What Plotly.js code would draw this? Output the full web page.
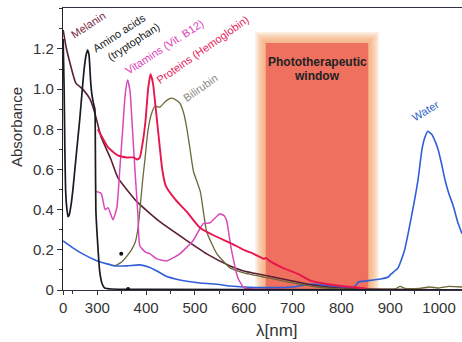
<!DOCTYPE html>
<html><head><meta charset="utf-8">
<script src="https://cdn.plot.ly/plotly-3.0.1.min.js"></script>
<style>html,body{margin:0;padding:0;background:#fff}#chart{width:462px;height:342px}</style>
</head><body><div id="chart"></div>
<script>
// ---- data ----
const melaninX = [230,236,244,256,270,285,295,308,328,342,381,428,484,524,572,600,650,700,740,780,800,900,1047];
const melaninY = [1.295,1.21,1.13,1.03,1.0,0.95,0.88,0.76,0.65,0.56,0.44,0.34,0.245,0.18,0.12,0.095,0.07,0.045,0.025,0.012,0.008,0.003,0.0];

const aminoX = [230,232,233.5,235,237,240,242,246,250,254,260,264,270,273,277,280,283,286,288,292,295,296,297,300,305,310,315,330,400,1047];
const aminoY = [1.25,1.0,0.7,0.5,0.42,0.365,0.37,0.42,0.5,0.6,0.75,0.85,1.02,1.1,1.17,1.195,1.17,1.05,0.99,0.93,0.9,0.7,0.4,0.26,0.09,0.03,0.01,0.005,0.003,0.0];

const vitX = [298,308,316,322,332,340,346,352,357,362,367,372,377,383,387,398,408,422,442,455,469,496,517,531,551,560,565,574,588,600,620,700];
const vitY = [0.49,0.48,0.40,0.41,0.35,0.41,0.6,0.8,0.97,1.045,0.99,0.8,0.6,0.38,0.22,0.19,0.18,0.155,0.145,0.16,0.18,0.245,0.33,0.335,0.38,0.37,0.345,0.21,0.06,0.012,0.005,0.003];

const protX = [301,322,342,360,374,382,387,394,399,404,409,414,419,425,433,440,460,483,510,540,572,600,620,642,645,650,680,711,738,770,800,850];
const protY = [0.80,0.71,0.67,0.66,0.66,0.65,0.66,0.75,0.85,1.0,1.075,1.03,0.92,0.78,0.60,0.52,0.45,0.39,0.31,0.27,0.235,0.2,0.18,0.155,0.16,0.15,0.11,0.08,0.045,0.03,0.02,0.008];

const biliX = [336,350,361,370,378,384,388,393,398,403,410,418,428,440,452,462,469,477,483,490,497,511,524,545,572,600,650,700,750,800,880,910,920,930,960,980,1000,1020,1047];
const biliY = [0.12,0.14,0.17,0.2,0.24,0.32,0.42,0.55,0.66,0.78,0.87,0.915,0.91,0.94,0.955,0.945,0.93,0.88,0.81,0.7,0.59,0.49,0.29,0.18,0.11,0.085,0.06,0.035,0.015,0.005,0.003,0.005,0.018,0.008,0.008,0.015,0.01,0.018,0.015];

const waterX = [230,250,270,300,320,336,360,387,405,422,440,460,480,510,540,572,600,650,700,740,780,825,835,850,880,896,902,916,929,943,957,965,971,977,985,992,998,1005,1012,1020,1029,1038,1047];
const waterY = [0.245,0.21,0.18,0.145,0.13,0.12,0.12,0.125,0.115,0.095,0.07,0.055,0.045,0.035,0.03,0.02,0.015,0.012,0.015,0.03,0.02,0.012,0.04,0.045,0.055,0.065,0.08,0.11,0.195,0.36,0.55,0.70,0.76,0.79,0.775,0.74,0.70,0.63,0.55,0.48,0.42,0.34,0.28];

const dotX = [349,363];
const dotY = [0.18,0.005];

const windowRange = [645, 855];
const windowTop = 1.23;

const xTickVals = [230,300,400,500,600,700,800,900,1000];
const xTickText = ['0','300','400','500','600','700','800','900','1000'];
const yTickVals = [0,0.2,0.4,0.6,0.8,1.0,1.2];
const yTickText = ['0','0.2','0.4','0.6','0.8','1.0','1.2'];

// ---- layout helpers (pixel -> paper) ----
const L=63, R=462, T=8, B=290;
function px(x){return (x-L)/(R-L);}
function py(y){return (B-y)/(B-T);}

function line(x,y,color,w){return {x:x,y:y,type:'scatter',mode:'lines',line:{color:color,width:w,shape:'spline',smoothing:0.45},hoverinfo:'skip',showlegend:false};}

const traces = [
  line(waterX,waterY,'#2f5fd8',1.6),
  line(melaninX,melaninY,'#5a1f35',1.6),
  line(biliX,biliY,'#6b6838',1.3),
  line(vitX,vitY,'#d948b8',1.5),
  line(protX,protY,'#e8164e',1.9),
  line(aminoX,aminoY,'#1a1a22',1.7),
  {x:dotX,y:dotY,type:'scatter',mode:'markers',marker:{color:'#111',size:4},hoverinfo:'skip',showlegend:false}
];

// phototherapeutic window: glow layers + core
const shapes=[];
const glowSteps=6;
for(let i=glowSteps;i>=1;i--){
  const dx=i*3.6, dy=i*0.009;
  shapes.push({type:'rect',xref:'x',yref:'y',layer:'below',x0:windowRange[0]-dx,x1:windowRange[1]+dx,y0:0,y1:windowTop+dy,
    line:{width:0},fillcolor:'rgba(246,160,100,0.2)'});
}
shapes.push({type:'rect',xref:'x',yref:'y',layer:'below',x0:windowRange[0],x1:windowRange[1],y0:0,y1:windowTop,
  line:{width:0},fillcolor:'rgba(238,104,90,0.9)'});

function lab(text,x,y,color,size,ang,bold){
  return {text:bold?'<b>'+text+'</b>':text,xref:'paper',yref:'paper',x:px(x),y:py(y),showarrow:false,
    textangle:ang,font:{family:'Liberation Sans, Arial, sans-serif',size:size,color:color},xanchor:'center',yanchor:'middle'};
}
const annotations=[
  lab('Melanin',88,25,'#7a2a48',11,-33),
  lab('Amino acids',119,33,'#1a1a1a',11,-33),
  lab('(tryptophan)',133,42,'#1a1a1a',11,-33),
  lab('Vitamins (Vit. B12)',164,47,'#e040b8',11,-33),
  lab('Proteins (Hemoglobin)',202,50,'#e8205a',11,-35),
  lab('Bilirubin',200,88,'#8a8a80',11,-35),
  lab('Water',425,111,'#3060c8',11,-31),
  lab('Phototherapeutic',317,62,'#222',12,0,true),
  lab('window',317,76,'#222',12,0,true),
  {text:'λ[nm]',xref:'paper',yref:'paper',x:px(277),y:py(330),showarrow:false,font:{family:'Liberation Sans, Arial, sans-serif',size:17,color:'#333'},xanchor:'center',yanchor:'middle'},
  {text:'Absorbance',xref:'paper',yref:'paper',x:px(16),y:py(127),showarrow:false,textangle:-90,font:{family:'Liberation Sans, Arial, sans-serif',size:15,color:'#333'},xanchor:'center',yanchor:'middle'}
];

const layout={
  width:462,height:342,
  margin:{l:L,r:462-R,t:T,b:342-B,pad:0},
  paper_bgcolor:'#fff',plot_bgcolor:'#fff',
  font:{family:'Liberation Sans, Arial, sans-serif',size:15,color:'#333'},
  xaxis:{range:[229.7,1047],tickvals:xTickVals,ticktext:xTickText,ticks:'outside',ticklen:4,tickcolor:'#333',
    showline:true,linecolor:'#2f2f45',linewidth:1.2,mirror:true,showgrid:false,zeroline:false,
    minor:{tickvals:[250,350,450,550,650,750,850,950,1050],ticks:'outside',ticklen:3,tickcolor:'#333'},
    tickfont:{size:15,color:'#333'}},
  yaxis:{range:[0,1.404],tickvals:yTickVals,ticktext:yTickText,ticks:'outside',ticklen:5,tickcolor:'#333',
    showline:true,linecolor:'#222',linewidth:1.2,showgrid:false,zeroline:false,
    minor:{dtick:0.1,ticks:'outside',ticklen:3,tickcolor:'#333'},
    tickfont:{size:15,color:'#333'}},
  shapes:shapes,annotations:annotations,showlegend:false
};
Plotly.newPlot('chart',traces,layout,{staticPlot:true,displayModeBar:false});
</script></body></html>
